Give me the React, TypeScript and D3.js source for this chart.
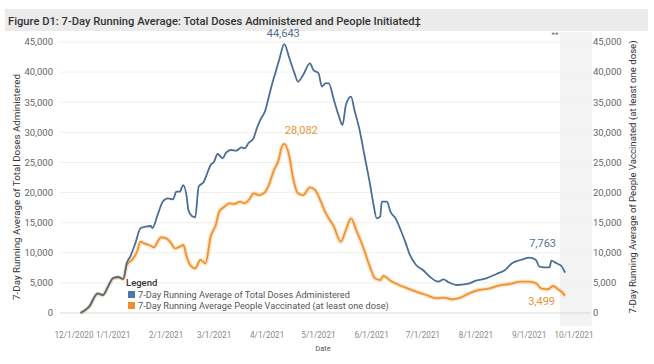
import React from "react";
import * as d3 from "d3";

const dosesDates = [
  "2020-12-13","2020-12-18","2020-12-23","2020-12-26","2020-12-29","2021-01-01","2021-01-04","2021-01-07",
  "2021-01-09","2021-01-11","2021-01-14","2021-01-17","2021-01-20","2021-01-23","2021-01-24","2021-01-27",
  "2021-01-30","2021-02-02","2021-02-05","2021-02-07","2021-02-09","2021-02-11","2021-02-13","2021-02-14",
  "2021-02-16","2021-02-18","2021-02-20","2021-02-23","2021-02-25","2021-02-27","2021-03-01","2021-03-03",
  "2021-03-06","2021-03-08","2021-03-11","2021-03-14","2021-03-17","2021-03-19","2021-03-21","2021-03-24",
  "2021-03-26","2021-03-28","2021-03-31","2021-04-02","2021-04-04","2021-04-06","2021-04-08","2021-04-11",
  "2021-04-14","2021-04-17","2021-04-19","2021-04-22","2021-04-26","2021-04-28","2021-05-01","2021-05-03",
  "2021-05-05","2021-05-07","2021-05-10","2021-05-13","2021-05-15","2021-05-17","2021-05-20","2021-05-22",
  "2021-05-25","2021-05-28","2021-05-31","2021-06-02","2021-06-04","2021-06-06","2021-06-07","2021-06-10",
  "2021-06-12","2021-06-15","2021-06-18","2021-06-21","2021-06-23","2021-06-27","2021-07-01","2021-07-05",
  "2021-07-10","2021-07-13","2021-07-16","2021-07-21","2021-07-27","2021-08-01","2021-08-07","2021-08-13",
  "2021-08-18","2021-08-22","2021-08-27","2021-09-01","2021-09-05","2021-09-07","2021-09-10","2021-09-13",
  "2021-09-14","2021-09-17","2021-09-20","2021-09-22"
];
const dosesValues = [
  0, 1050, 3270, 2990, 4370, 5810, 5980, 5650,
  8300, 9350, 11570, 14060, 14330, 14450, 14110, 16270,
  18480, 19040, 18880, 20150, 20150, 21250, 19310, 17100,
  16100, 15890, 20980, 21800, 23200, 24580, 25130, 26400,
  25690, 26620, 27070, 26950, 27510, 27350, 28180, 29010,
  30670, 32050, 33710, 35920, 38140, 40070, 42010, 44643,
  42290, 39800, 38410, 39520, 41460, 40350, 39800, 37580,
  38140, 38140, 35370, 32600, 31220, 34540, 35920, 33710,
  30390, 25950, 21540, 18220, 15720, 15990, 18480, 18480,
  16820, 15720, 13780, 11570, 9910, 7970, 7140, 6030,
  5200, 5600, 5100, 4650, 4820, 5370, 5760, 6480,
  7140, 8250, 8800, 9180, 8800, 7690, 7590, 7590,
  8690, 8250, 7763, 6690
];

const peopleDates = [
  "2020-12-13","2020-12-18","2020-12-23","2020-12-26","2020-12-29","2021-01-01","2021-01-04","2021-01-07",
  "2021-01-09","2021-01-12","2021-01-15","2021-01-17","2021-01-19","2021-01-22","2021-01-25","2021-01-27",
  "2021-01-29","2021-02-01","2021-02-04","2021-02-06","2021-02-09","2021-02-11","2021-02-13","2021-02-15",
  "2021-02-18","2021-02-21","2021-02-24","2021-02-27","2021-03-02","2021-03-04","2021-03-07","2021-03-10",
  "2021-03-13","2021-03-16","2021-03-19","2021-03-22","2021-03-24","2021-03-27","2021-03-30","2021-04-02",
  "2021-04-05","2021-04-08","2021-04-09","2021-04-11","2021-04-14","2021-04-16","2021-04-19","2021-04-22",
  "2021-04-26","2021-04-29","2021-05-02","2021-05-05","2021-05-10","2021-05-14","2021-05-17","2021-05-20",
  "2021-05-23","2021-05-27","2021-05-31","2021-06-03","2021-06-06","2021-06-08","2021-06-12","2021-06-17",
  "2021-06-22","2021-06-27","2021-07-03","2021-07-09","2021-07-13","2021-07-18","2021-07-23","2021-07-28",
  "2021-08-03","2021-08-09","2021-08-15","2021-08-21","2021-08-27","2021-09-01","2021-09-05","2021-09-08",
  "2021-09-12","2021-09-15","2021-09-18","2021-09-20","2021-09-22"
];
const peopleValues = [
  0, 1000, 3200, 2950, 4300, 5700, 5900, 5600,
  7970, 8800, 10180, 11840, 11570, 11290, 10910, 11840,
  12570, 12400, 11570, 10740, 11010, 11290, 9350, 7970,
  7420, 8800, 8250, 12670, 14610, 16820, 17650, 18220,
  18100, 18480, 18220, 19050, 19880, 19590, 19880, 21250,
  23750, 25690, 27070, 28082, 25950, 22630, 19880, 19590,
  20870, 20430, 18750, 16700, 14330, 11840, 13780, 15720,
  13780, 11010, 7690, 5760, 5480, 6140, 5370, 4650,
  4100, 3540, 2990, 2440, 2550, 2270, 2550, 3270,
  3820, 4100, 4600, 4820, 5200, 5200, 4930, 4100,
  3940, 4480, 3940, 3499, 2870
];

const xTickDates = ["2020-12-01","2021-01-01","2021-02-01","2021-03-01","2021-04-01","2021-05-01","2021-06-01","2021-07-01","2021-08-01","2021-09-01","2021-10-01"];
const xTickLabels = ["12/1/2020","1/1/2021","2/1/2021","3/1/2021","4/1/2021","5/1/2021","6/1/2021","7/1/2021","8/1/2021","9/1/2021","10/1/2021"];
const yTicks = [0, 5000, 10000, 15000, 20000, 25000, 30000, 35000, 40000, 45000];

const seriesNames = ["7-Day Running Average of Total Doses Administered", "7-Day Running Average People Vaccinated (at least one dose)"];
const titleText = "Figure D1: 7-Day Running Average: Total Doses Administered and People Initiated\u2021";
const incompleteStart = "2021-09-19";
const domainDates = ["2020-12-01", "2021-10-07"];

const parse = d3.timeParse("%Y-%m-%d");
const fmt = d3.format(",");

const BLUE = "#4a6e94";
const ORANGE = "#f0922e";
const FONT = "Roboto, 'Noto Sans', sans-serif";

export default function App() {
  const x = d3.scaleTime().domain(domainDates.map((d) => parse(d)!)).range([60, 590.7]);
  const y = d3.scaleLinear().domain([0, 45000]).range([313, 42]);

  const doses = dosesDates.map((d, i) => ({ date: parse(d)!, v: dosesValues[i] }));
  const people = peopleDates.map((d, i) => ({ date: parse(d)!, v: peopleValues[i] }));

  const line = d3
    .line<{ date: Date; v: number }>()
    .x((d) => x(d.date))
    .y((d) => y(d.v))
    .curve(d3.curveMonotoneX);

  const peakD = doses.reduce((a, b) => (b.v > a.v ? b : a));
  const peakP = people.reduce((a, b) => (b.v > a.v ? b : a));
  const lastD = doses.find((d) => d.v === 7763)!;
  const lastP = people.find((d) => d.v === 3499)!;

  const shadeX = x(parse(incompleteStart)!);
  const x0 = x.range()[0];
  const x1 = x.range()[1];

  return (
    <svg width={654} height={364} style={{ position: "absolute", left: 0, top: 0, background: "#fff" }} fontFamily={FONT}>
      <rect x={5} y={9} width={643} height={22} fill="#ebebeb" />
      <text x={8} y={24.5} fontSize={11.2} fontWeight={500} fill="#333">{titleText}</text>

      <rect x={shadeX} y={32} width={x1 + 1.3 - shadeX} height={294} fill="#f3f3f3" />
      <text x={555} y={37} fontSize={8} fill="#666" textAnchor="middle">**</text>

      {yTicks.map((t) => (
        <g key={t}>
          {t > 0 && <line x1={x0} x2={x1} y1={y(t)} y2={y(t)} stroke="#f0f0f0" strokeWidth={1} />}
          <text x={53} y={y(t)} dy="0.35em" fontSize={9.5} fill="#666" textAnchor="end">{fmt(t)}</text>
          <text x={593} y={y(t)} dy="0.35em" fontSize={9.5} fill="#666" textAnchor="start">{fmt(t)}</text>
        </g>
      ))}
      <line x1={x0} x2={x1} y1={y(0)} y2={y(0)} stroke="#d9d9d9" strokeWidth={1} />

      {xTickDates.map((d, i) => {
        const px = Math.min(Math.max(x(parse(d)!), 74), 574);
        return (
          <text key={d} x={px} y={335} dy="0.35em" fontSize={8.2} fill="#8a8a8a" textAnchor="middle">{xTickLabels[i]}</text>
        );
      })}
      <text x={323} y={348} dy="0.35em" fontSize={7.5} fill="#555" textAnchor="middle">Date</text>

      <text transform={`translate(20,187) rotate(-90)`} fontSize={9.8} fill="#333" textAnchor="middle">7-Day Running Average of Total Doses Administered</text>
      <text transform={`translate(636,177) rotate(-90)`} fontSize={9.6} fill="#333" textAnchor="middle">7-Day Running Average of People Vaccinated (at least one dose)</text>

      <path d={line(people)!} fill="none" stroke={ORANGE} strokeOpacity={0.25} strokeWidth={4.5} strokeLinejoin="round" />
      <path d={line(people)!} fill="none" stroke={ORANGE} strokeWidth={1.8} strokeLinejoin="round" />
      <path d={line(doses)!} fill="none" stroke={BLUE} strokeWidth={1.8} strokeLinejoin="round" />

      <text x={x(peakD.date) - 1} y={y(peakD.v) - 7} fontSize={11} fill="#4e6f8f" textAnchor="middle">{fmt(peakD.v)}</text>
      <text x={x(peakP.date) + 17} y={y(peakP.v) - 10} fontSize={11} fill="#e8943a" textAnchor="middle">{fmt(peakP.v)}</text>
      <text x={x(lastD.date) - 19} y={y(lastD.v) - 19} fontSize={11} fill="#4e6f8f" textAnchor="middle">{fmt(lastD.v)}</text>
      <text x={x(lastP.date) - 20} y={y(lastP.v) + 13} fontSize={11} fill="#e8943a" textAnchor="middle">{fmt(lastP.v)}</text>

      <text x={126} y={286} fontSize={9.5} fontWeight={500} fill="#333">Legend</text>
      <rect x={128} y={291} width={7} height={7} fill="#4e79a7" />
      <text x={138} y={297.5} fontSize={9.2} fill="#555">{seriesNames[0]}</text>
      <rect x={128} y={302} width={7} height={7} fill="#f28e2b" />
      <text x={138} y={308.5} fontSize={9.2} fill="#555">{seriesNames[1]}</text>
    </svg>
  );
}
